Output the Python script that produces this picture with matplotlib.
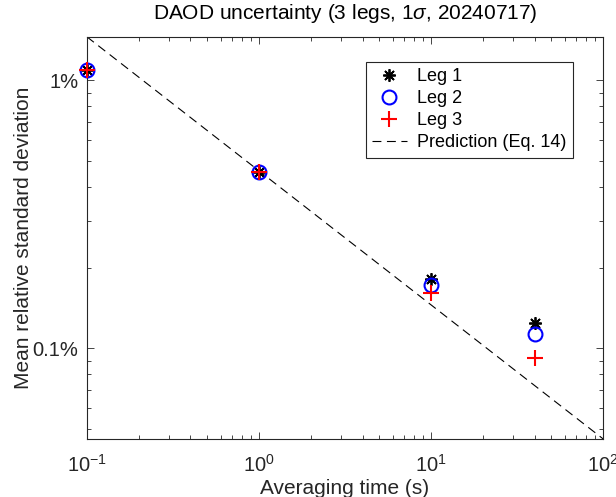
import numpy as np
import matplotlib.pyplot as plt
from matplotlib.ticker import FixedLocator, FixedFormatter, LogLocator, NullFormatter

plt.rcParams['font.family'] = ['Liberation Sans', 'DejaVu Sans']
plt.rcParams['mathtext.fontset'] = 'custom'
plt.rcParams['mathtext.rm'] = 'Liberation Sans'
plt.rcParams['mathtext.it'] = 'Liberation Sans:italic'

# averaging times (s) and mean relative std (%)
t_avg = [0.1, 1, 10, 40]
leg1 = [1.09, 0.455, 0.181, 0.124]
leg2 = [1.09, 0.455, 0.172, 0.113]
leg3 = [1.09, 0.455, 0.161, 0.0925]
# prediction (Eq. 14): sigma ~ t^-0.5
t_pred = [0.1, 100]
pred_at_1s = 0.46

ytick_vals = [0.1, 1]
ytick_labels = ['0.1%', '1%']

fig = plt.figure(figsize=(6.16, 4.97), dpi=100)
ax = fig.add_axes([0.141, 0.117, 0.838, 0.809])
axc = '0.15'

ax.plot(t_avg, leg1, ls='none', marker=(8, 2, 0), color='k', ms=9, mew=1.3, label='Leg 1', clip_on=False, zorder=3)
ax.plot(t_avg, leg2, ls='none', marker='o', mfc='none', mec='b', ms=10, mew=1.5, label='Leg 2', clip_on=False, zorder=3)
ax.plot(t_avg, leg3, ls='none', marker='+', color='r', ms=11, mew=1.5, label='Leg 3', clip_on=False, zorder=3)
pred = pred_at_1s * np.array(t_pred) ** -0.5
ax.plot(t_pred, pred, color='k', lw=0.8, ls=(0, (8, 5)), label='Prediction (Eq. 14)')

ax.set_xscale('log')
ax.set_yscale('log')
ax.set_xlim(t_pred[0], t_pred[1])
ax.set_ylim(pred.min(), pred.max())

ax.yaxis.set_major_locator(FixedLocator(ytick_vals))
ax.yaxis.set_major_formatter(FixedFormatter(ytick_labels))
ax.yaxis.set_minor_locator(LogLocator(base=10, subs=np.arange(2, 10)))
ax.yaxis.set_minor_formatter(NullFormatter())
ax.xaxis.set_minor_locator(LogLocator(base=10, subs=np.arange(2, 10)))

ax.tick_params(which='both', direction='in', top=True, right=True, colors=axc, labelcolor='0.15', labelsize=14.5)
ax.tick_params(which='major', length=5, width=0.6, pad=6)
ax.tick_params(axis='x', which='major', pad=11)
ax.tick_params(which='minor', length=3, width=0.6)
for s in ax.spines.values():
    s.set_color(axc)
    s.set_linewidth(0.8)

ax.set_xlabel('Averaging time (s)', fontsize=15, labelpad=2, color='0.15')
ax.set_ylabel('Mean relative standard deviation', fontsize=15, labelpad=0, color='0.15')
ax.set_title(r'DAOD uncertainty (3 legs, 1$\sigma$, 20240717)', fontsize=15, pad=13)

leg = ax.legend(loc='upper right', bbox_to_anchor=(0.942, 0.938), fontsize=13, fancybox=False,
                framealpha=1, edgecolor=axc, borderpad=0.35, handlelength=1.9, labelspacing=0.28,
                handletextpad=0.6, borderaxespad=0)
leg.get_frame().set_linewidth(0.8)

plt.savefig('out.png', dpi=100)
